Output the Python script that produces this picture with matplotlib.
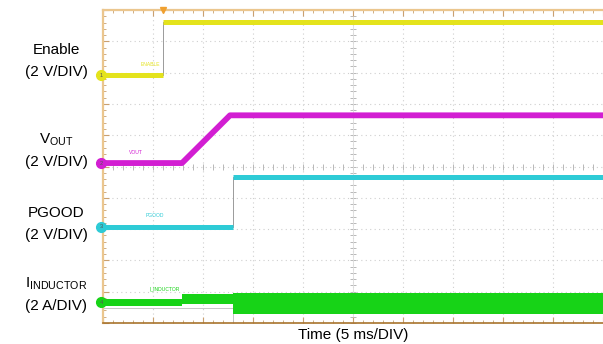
import numpy as np
import matplotlib
matplotlib.use("Agg")
import matplotlib.pyplot as plt

plt.rcParams['font.family'] = ['Liberation Sans', 'DejaVu Sans']
plt.rcParams['mathtext.fontset'] = 'custom'
plt.rcParams['mathtext.rm'] = 'Liberation Sans'

# scope settings: 5 ms/div, 10 x 10 divisions
ms_per_div = 5
n_div = 10

# channel data (time in ms, level in V or A)
enable_t = [0, 6.0, 6.0, 50]
enable_v = [0, 0, 3.4, 3.4]

vout_t = [0, 7.9, 12.7, 50]
vout_v = [0, 0, 3.05, 3.05]

pgood_t = [0, 13.0, 13.0, 50]
pgood_v = [0, 0, 3.2, 3.2]

ind_t = [0, 7.9, 7.9, 13.0, 13.0, 50]
ind_hi = [0.19, 0.19, 0.5, 0.5, 0.58, 0.58]
ind_lo = [-0.26, -0.26, -0.15, -0.15, -0.77, -0.77]

# channel ground offsets (divisions from bottom) and scale (units per div)
channels = {
    'enable': dict(offset=7.92, scale=2, color='#e4e31c', label='ENABLE', num='1'),
    'vout': dict(offset=5.11, scale=2, color='#d21ed2', label='VOUT', num='2'),
    'pgood': dict(offset=3.07, scale=2, color='#2ecbd6', label='PGOOD', num='3'),
    'ind': dict(offset=0.67, scale=2, color='#17d317', label='I_INDUCTOR', num='4'),
}


def to_div(vals, ch):
    c = channels[ch]
    return c['offset'] + np.asarray(vals, dtype=float) / c['scale']


def split_steps(t, y):
    # break the line at vertical edges so they can be drawn thin
    tt, yy = [t[0]], [y[0]]
    for i in range(1, len(t)):
        if t[i] == t[i - 1]:
            tt.append(np.nan)
            yy.append(np.nan)
        tt.append(t[i])
        yy.append(y[i])
    return tt, yy


fig = plt.figure(figsize=(6.03, 3.44), dpi=100)
ax = fig.add_axes([103 / 603, 21 / 344, 500 / 603, 313 / 344])
ax.set_xlim(0, ms_per_div * n_div)
ax.set_ylim(0, n_div)

# graticule
grid_kw = dict(color='#cfcfcf', lw=0.8, ls=(0, (1, 3)), zorder=1)
for k in range(1, n_div):
    ax.axvline(k * ms_per_div, **grid_kw)
    ax.axhline(k, **grid_kw)
minor_x = np.arange(0, ms_per_div * n_div, ms_per_div / 5)
minor_y = np.arange(0, n_div, 0.2)
ax.plot(minor_x, np.full_like(minor_x, n_div / 2), ls='none', marker='|',
        ms=4, mew=0.7, color='#b8b8b8', zorder=1)
ax.plot(np.full_like(minor_y, ms_per_div * n_div / 2), minor_y, ls='none',
        marker='_', ms=4, mew=0.7, color='#b8b8b8', zorder=1)
ax.axvline(ms_per_div * n_div / 2, color='#dcdcdc', lw=0.6, zorder=1)

# frame
for side in ['left', 'top']:
    ax.spines[side].set_color('#ebc68e')
    ax.spines[side].set_linewidth(1.6)
ax.spines['bottom'].set_color('#a8742e')
ax.spines['bottom'].set_linewidth(1.2)
ax.spines['right'].set_visible(False)
ax.set_xticks(np.arange(0, 51, ms_per_div))
ax.set_xticks(minor_x, minor=True)
ax.set_yticks(np.arange(0, 11, 1))
ax.set_yticks(minor_y, minor=True)
ax.tick_params(which='both', direction='in', top=True, bottom=True, left=True,
               right=False, labelbottom=False, labelleft=False, color='#c9a070')
ax.tick_params(which='major', length=4, width=0.8)
ax.tick_params(which='minor', length=2.5, width=0.6)

# traces
for name, t, v in [('enable', enable_t, enable_v), ('pgood', pgood_t, pgood_v)]:
    y = to_div(v, name)
    ax.plot(t, y, color='#9a9a9a', lw=0.7, zorder=2)
    tt, yy = split_steps(t, y)
    ax.plot(tt, yy, color=channels[name]['color'], lw=3.6, solid_capstyle='butt', zorder=3)

ax.plot(vout_t, to_div(vout_v, 'vout'), color=channels['vout']['color'], lw=4.2,
        solid_joinstyle='round', zorder=3)

ax.fill_between(ind_t, to_div(ind_hi, 'ind'), to_div(ind_lo, 'ind'),
                color=channels['ind']['color'], lw=0, zorder=3)
ax.plot([0, 13.0, 13.0], [to_div(-0.38, 'ind')] * 2 + [0], color='#bdbdbd',
        lw=0.6, zorder=2)

# small trace labels
label_pos = {'enable': (4.7, 8.27), 'vout': (3.3, 5.46), 'pgood': (5.2, 3.42), 'ind': (6.2, 1.09)}
for name, (x, y) in label_pos.items():
    ax.text(x, y, channels[name]['label'], color=channels[name]['color'], fontsize=3.6,
            ha='center', va='center', zorder=4)

# channel ground markers
for name, c in channels.items():
    ax.plot([-0.2], [c['offset']], marker='o', ms=7, color=c['color'], clip_on=False, zorder=5)
    ax.text(-0.2, c['offset'], c['num'], fontsize=4, ha='center', va='center',
            color='#555555', clip_on=False, zorder=6)

# trigger marker
ax.plot([enable_t[1]], [n_div], marker='v', ms=5, color='#f0a030', clip_on=False, zorder=5)

# left-hand channel labels
label_kw = dict(fontsize=11, ha='center', va='center', color='black')
fig.text(56 / 603, 1 - 50 / 344, 'Enable', **label_kw)
fig.text(56 / 603, 1 - 72 / 344, '(2 V/DIV)', **label_kw)
fig.text(56 / 603, 1 - 140 / 344, r'$\mathregular{V_{OUT}}$', **label_kw)
fig.text(56 / 603, 1 - 162 / 344, '(2 V/DIV)', **label_kw)
fig.text(56 / 603, 1 - 213 / 344, 'PGOOD', **label_kw)
fig.text(56 / 603, 1 - 235 / 344, '(2 V/DIV)', **label_kw)
fig.text(56 / 603, 1 - 284 / 344, r'$\mathregular{I_{INDUCTOR}}$', **label_kw)
fig.text(56 / 603, 1 - 306 / 344, '(2 A/DIV)', **label_kw)
fig.text(353 / 603, 1 - 335 / 344, 'Time (5 ms/DIV)', **label_kw)

fig.savefig('out.png', dpi=100)
